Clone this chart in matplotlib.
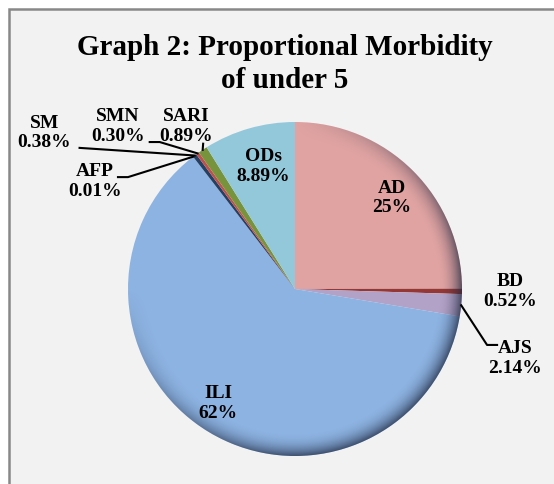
import numpy as np
import matplotlib
matplotlib.use("Agg")
import matplotlib.pyplot as plt
from matplotlib.patches import Rectangle, Circle

# data
labels = ["AD", "BD", "AJS", "ILI", "AFP", "SM", "SMN", "SARI", "ODs"]
values = [25, 0.52, 2.14, 62, 0.01, 0.38, 0.30, 0.89, 8.89]
pct_text = ["25%", "0.52%", "2.14%", "62%", "0.01%", "0.38%", "0.30%", "0.89%", "8.89%"]
colors = ["#E0A3A2", "#953735", "#B3A2C7", "#8DB3E2", "#4F81BD",
          "#254061", "#C0504D", "#77933C", "#93C8DA"]

# label layout (data units, pie radius = 1)
label_pos = {
    "AD": (0.58, 0.55), "ODs": (-0.19, 0.74), "ILI": (-0.46, -0.68),
    "BD": (1.29, -0.01), "AJS": (1.32, -0.41), "SM": (-1.50, 0.94),
    "SMN": (-1.06, 0.98), "SARI": (-0.65, 0.98), "AFP": (-1.20, 0.65),
}
# leader line bends (from label side towards the slice)
leaders = {
    "AJS": [(1.21, -0.335), (1.15, -0.335)],
    "SM": [(-1.29, 0.845)],
    "SMN": [(-0.87, 0.88), (-0.81, 0.88)],
    "SARI": [(-0.55, 0.87)],
    "AFP": [(-1.06, 0.67), (-1.00, 0.67)],
}

W, H = 554, 485
cx, cy, R = 295, 290, 167

fig = plt.figure(figsize=(W / 100, H / 100), dpi=100)
fig.patch.set_facecolor("white")
fig.patches.append(Rectangle((9 / W, -0.1), 1.2, (H - 10) / H + 0.1, transform=fig.transFigure,
                             facecolor="#F2F2F2", edgecolor="#888888", linewidth=1.8, zorder=-5))

ax = fig.add_axes([0, 0, 1, 1])
ax.set_zorder(2)
ax.patch.set_alpha(0)

wedges, _ = ax.pie(values, colors=colors, startangle=90, counterclock=False,
                   radius=1, center=(0, 0), frame=True,
                   wedgeprops=dict(linewidth=0))

# edge shading to mimic the bevelled look
n = 400
g = np.linspace(-1, 1, n)
X, Y = np.meshgrid(g, g)
r = np.sqrt(X ** 2 + Y ** 2)
edge = np.clip((r - 0.86) / 0.14, 0, 1) ** 2.2
direc = 0.35 + 0.35 * np.clip((X - Y) / np.maximum(r, 1e-6), -1, 1)
shade = np.zeros((n, n, 4))
shade[..., 0] = 0.12
shade[..., 1] = 0.16
shade[..., 2] = 0.25
shade[..., 3] = edge * direc
im = ax.imshow(shade, extent=(-1, 1, -1, 1), origin="lower", zorder=3, interpolation="bilinear")
im.set_clip_path(Circle((0, 0), 1.0, transform=ax.transData))
ax.set_xlim(-cx / R, (W - cx) / R)
ax.set_ylim(-(H - cy) / R, cy / R)
ax.set_aspect("auto")
ax.axis("off")

font = dict(family="Liberation Serif", weight="bold", size=14, color="black")

theta = 90.0
total = sum(values)
for lab, v, p in zip(labels, values, pct_text):
    span = v / total * 360
    mid = np.deg2rad(theta - span / 2)
    theta -= span
    tx, ty = label_pos[lab]
    ax.text(tx, ty, f"{lab}\n{p}", ha="center", va="center", linespacing=1.2, zorder=5, **font)
    if lab in leaders:
        pts = leaders[lab] + [(np.cos(mid), np.sin(mid))]
        xs, ys = zip(*pts)
        ax.plot(xs, ys, color="black", lw=1.5, zorder=4)

fig.text(285 / W, 1 - 64 / H, "Graph 2: Proportional Morbidity\nof under 5", ha="center", va="center",
         family="Liberation Serif", weight="bold", size=21, linespacing=1.3)

fig.savefig("out.png", dpi=100)
